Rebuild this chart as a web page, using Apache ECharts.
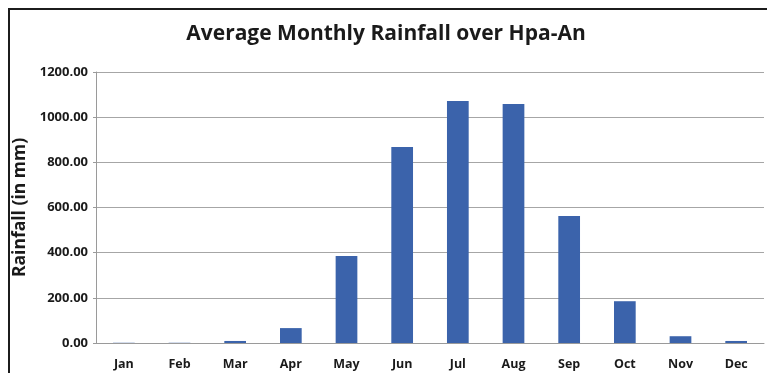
<!DOCTYPE html>
<html>
<head>
<meta charset="utf-8">
<script src="https://cdn.jsdelivr.net/npm/echarts@6/dist/echarts.min.js"></script>
<style>
  html, body { margin: 0; padding: 0; background: #fff; }
  #chart { width: 767px; height: 373px; }
</style>
</head>
<body>
<div id="chart"></div>
<script>
// Average monthly rainfall, Hpa-An (mm)
const months = ['Jan', 'Feb', 'Mar', 'Apr', 'May', 'Jun', 'Jul', 'Aug', 'Sep', 'Oct', 'Nov', 'Dec'];
const rainfall = [1, 1, 9, 66, 385, 868, 1072, 1058, 562, 185, 30, 9];
const yTicks = { min: 0, max: 1200, interval: 200 };

const FONT = '"Open Sans", "DejaVu Sans", sans-serif';

const chart = echarts.init(document.getElementById('chart'), null, { renderer: 'canvas' });
chart.setOption({
  animation: false,
  backgroundColor: '#ffffff',
  title: {
    text: 'Average Monthly Rainfall over Hpa-An',
    left: 381,
    top: 19,
    textAlign: 'center',
    textStyle: { fontFamily: FONT, fontWeight: 'bold', fontSize: 21, color: '#1a1a1a' }
  },
  graphic: [{
    type: 'rect',
    shape: { x: 9, y: 9, width: 800, height: 400 },
    style: { fill: 'none', stroke: '#1c1c1c', lineWidth: 2 },
    silent: true
  }],
  grid: { left: 96, right: 3, top: 72, bottom: 30, containLabel: false },
  xAxis: {
    type: 'category',
    data: months,
    axisLine: { lineStyle: { color: '#9a9a9a', width: 1 } },
    axisTick: { show: false },
    axisLabel: { fontFamily: FONT, fontWeight: 'bold', fontSize: 12.5, color: '#1a1a1a', margin: 15 }
  },
  yAxis: {
    type: 'value',
    min: yTicks.min,
    max: yTicks.max,
    interval: yTicks.interval,
    name: 'Rainfall (in mm)',
    nameLocation: 'middle',
    nameGap: 59,
    nameTextStyle: { fontFamily: FONT, fontWeight: 'bold', fontSize: 17.5, color: '#1a1a1a' },
    axisLine: { show: true, lineStyle: { color: '#9a9a9a', width: 1 } },
    axisTick: { show: true, length: 3, lineStyle: { color: '#9a9a9a' } },
    splitLine: { lineStyle: { color: '#a6a6a6', width: 1 } },
    axisLabel: {
      fontFamily: FONT, fontWeight: 'bold', fontSize: 13, color: '#1a1a1a', margin: 8,
      formatter: v => v.toFixed(2)
    }
  },
  series: [{
    type: 'bar',
    data: rainfall,
    barWidth: '39%',
    itemStyle: { color: '#3b63ab' }
  }]
});
</script>
</body>
</html>
